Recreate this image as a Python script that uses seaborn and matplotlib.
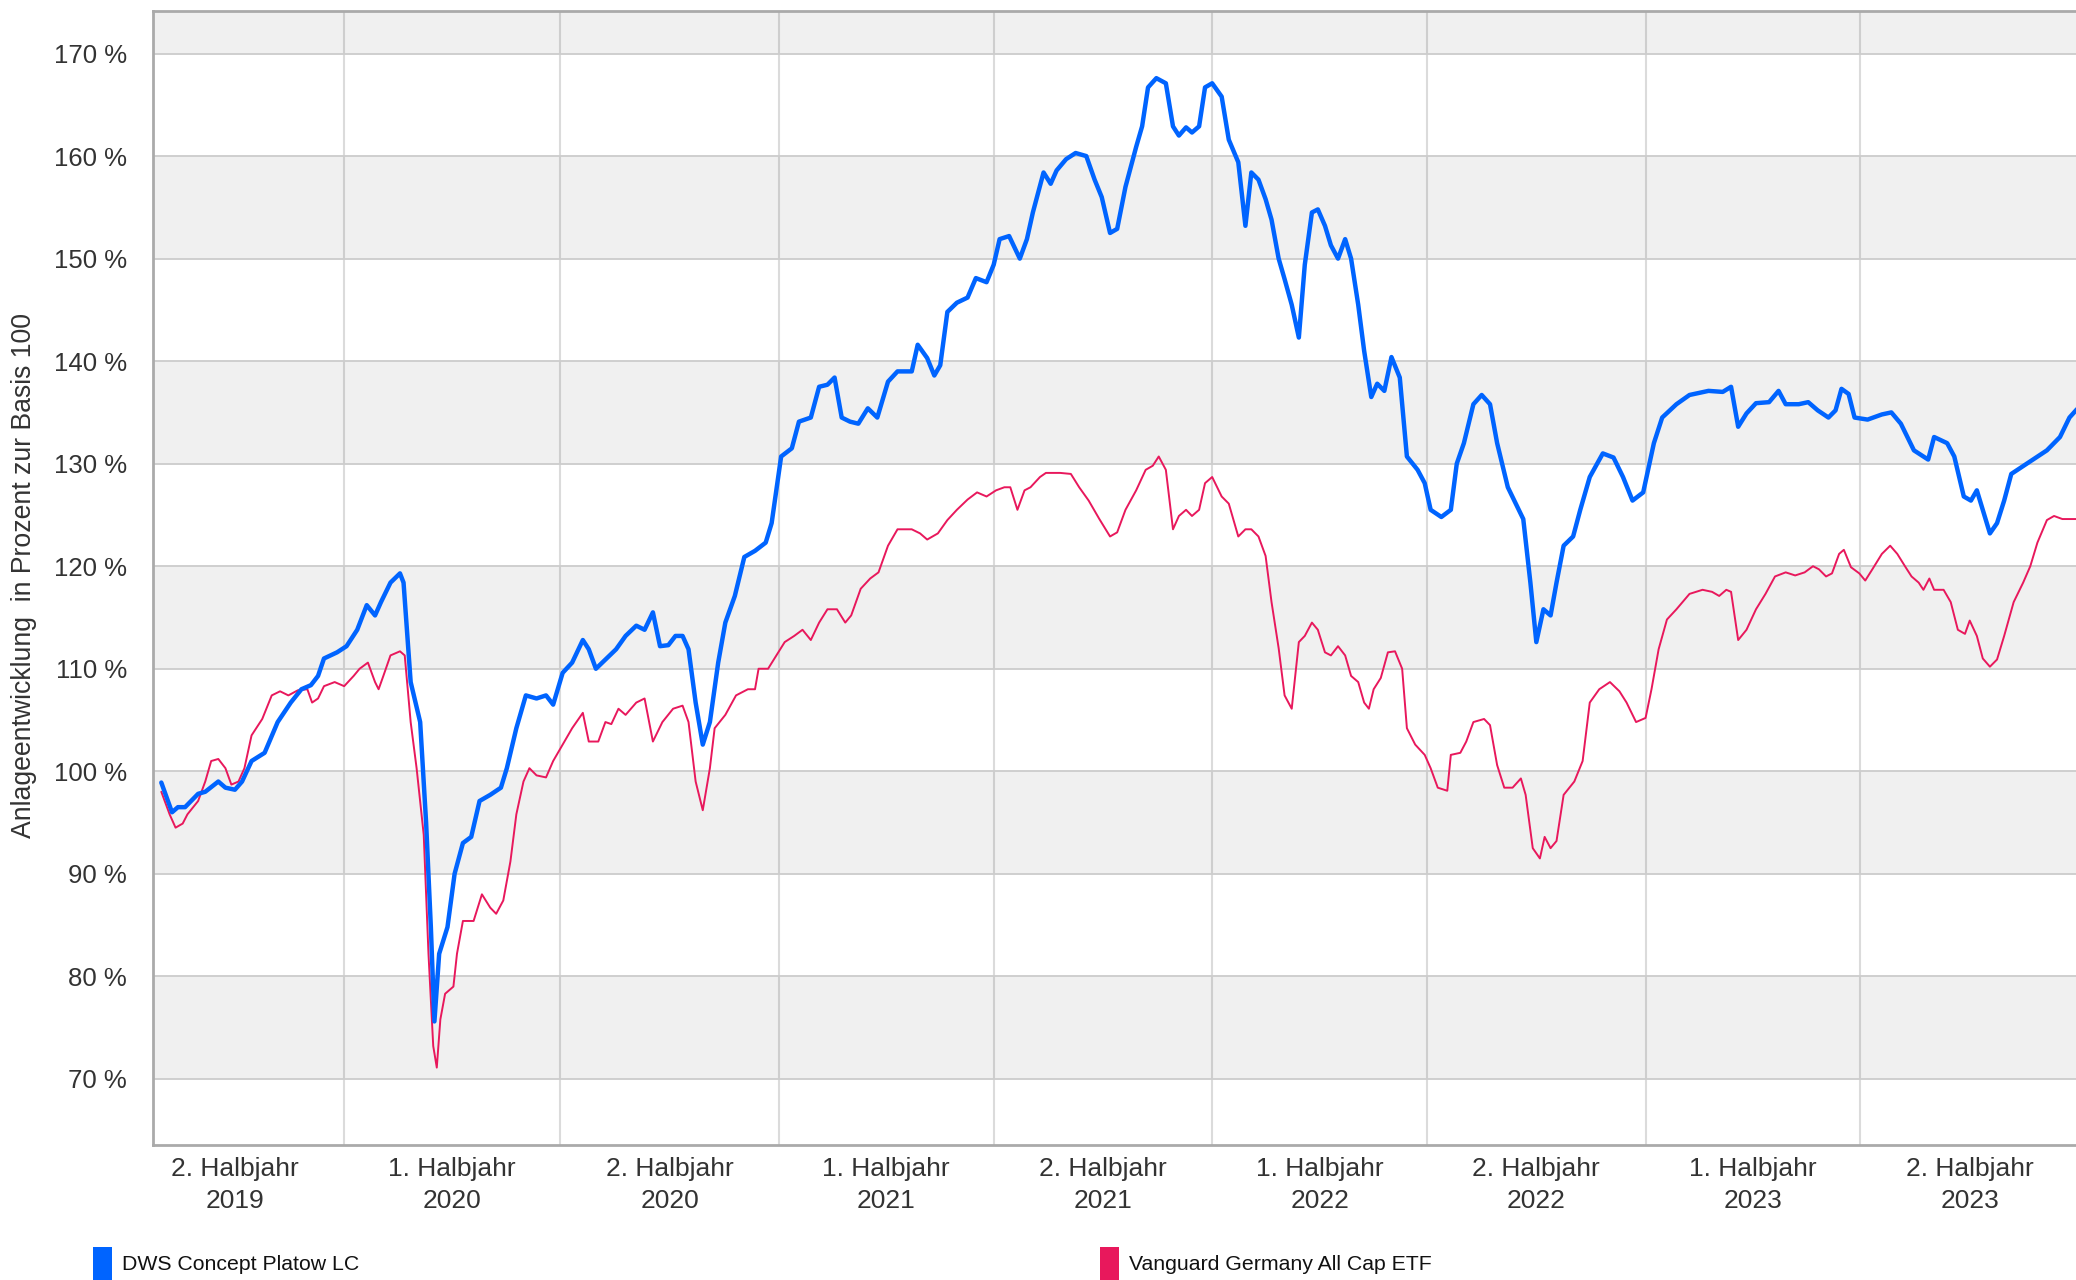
import matplotlib
matplotlib.use('Agg')
import pandas as pd
import numpy as np
import matplotlib.pyplot as plt
import matplotlib.dates as mdates
from matplotlib.patches import Rectangle
from matplotlib.ticker import FixedLocator, MultipleLocator, FuncFormatter
import seaborn as sns

dws_tage = [-154, -145, -140, -134, -123, -117, -106, -100, -92, -86, -78, -67, -56, -45, -36, -28,
            -22, -17, -6, 2, 11, 19, 26, 31, 39, 47, 50, 56, 64, 69, 73, 76, 80, 87, 93, 100, 107,
            114, 123, 132, 137, 145, 153, 162, 170, 176, 184, 192, 201, 206, 212, 221, 229, 237,
            246, 253, 260, 266, 273, 279, 285, 290, 296, 302, 308, 315, 321, 329, 337, 346, 355,
            360, 368, 377, 383, 393, 400, 407, 413, 419, 426, 433, 441, 449, 458, 466, 478, 483,
            491, 497, 502, 508, 516, 525, 532, 541, 547, 552, 560, 569, 575, 580, 589, 595, 600,
            608, 616, 625, 632, 638, 645, 651, 658, 667, 672, 677, 684, 692, 698, 703, 709, 714,
            720, 725, 731, 739, 745, 753, 759, 764, 770, 776, 781, 787, 792, 798, 804, 809, 815,
            820, 826, 831, 837, 843, 848, 854, 859, 865, 870, 876, 882, 889, 895, 904, 910, 915,
            924, 932, 937, 943, 951, 958, 965, 971, 980, 988, 993, 999, 1004, 1010, 1016, 1021,
            1027, 1035, 1041, 1049, 1060, 1069, 1077, 1085, 1094, 1103, 1110, 1122, 1133, 1149,
            1161, 1168, 1174, 1181, 1189, 1200, 1208, 1214, 1225, 1233, 1241, 1250, 1256, 1261,
            1267, 1272, 1283, 1295, 1303, 1311, 1322, 1334, 1339, 1350, 1356, 1364, 1370, 1375,
            1380, 1386, 1392, 1398, 1404, 1417, 1434, 1445, 1453, 1460]
dws_wert = [98.9, 96.0, 96.5, 96.5, 97.8, 98.0, 99.0, 98.4, 98.2, 99.0, 101.0, 101.8, 104.8, 106.7,
            108.0, 108.4, 109.3, 111.0, 111.6, 112.2, 113.8, 116.2, 115.2, 116.5, 118.4, 119.3,
            118.4, 108.7, 104.8, 95.0, 84.8, 75.6, 82.2, 84.8, 90.0, 93.0, 93.6, 97.1, 97.7, 98.4,
            100.3, 104.2, 107.4, 107.1, 107.4, 106.5, 109.6, 110.6, 112.8, 111.9, 110.0, 111.0,
            111.9, 113.2, 114.2, 113.8, 115.5, 112.2, 112.3, 113.2, 113.2, 111.9, 106.7, 102.6,
            104.8, 110.6, 114.5, 117.1, 120.9, 121.5, 122.3, 124.2, 130.7, 131.5, 134.1, 134.5,
            137.5, 137.7, 138.4, 134.5, 134.1, 133.9, 135.4, 134.5, 138.0, 139.0, 139.0, 141.6,
            140.3, 138.6, 139.6, 144.8, 145.7, 146.2, 148.1, 147.7, 149.4, 151.9, 152.2, 150.0,
            151.9, 154.5, 158.4, 157.3, 158.6, 159.7, 160.3, 160.0, 157.7, 156.0, 152.5, 152.9,
            157.0, 160.9, 162.9, 166.7, 167.6, 167.1, 162.9, 162.0, 162.8, 162.3, 162.9, 166.7,
            167.1, 165.8, 161.6, 159.4, 153.2, 158.4, 157.7, 155.8, 153.8, 150.0, 148.0, 145.5,
            142.3, 149.4, 154.5, 154.8, 153.2, 151.3, 150.0, 151.9, 150.0, 145.5, 141.0, 136.5,
            137.8, 137.1, 140.4, 138.4, 130.7, 129.4, 128.1, 125.5, 124.8, 125.5, 130.0, 132.0,
            135.8, 136.7, 135.8, 132.0, 127.7, 125.8, 124.6, 118.4, 112.6, 115.8, 115.2, 118.4,
            122.0, 122.9, 125.5, 128.7, 131.0, 130.6, 128.7, 126.4, 127.2, 132.0, 134.5, 135.8,
            136.7, 137.1, 137.0, 137.5, 133.6, 134.9, 135.9, 136.0, 137.1, 135.8, 135.8, 136.0,
            135.2, 134.5, 135.2, 137.3, 136.8, 134.5, 134.3, 134.8, 135.0, 133.9, 131.3, 130.4,
            132.6, 132.0, 130.7, 126.8, 126.4, 127.4, 125.5, 123.2, 124.2, 126.4, 129.0, 130.0,
            131.3, 132.6, 134.5, 135.4]

vang_tage = [-154, -147, -142, -136, -132, -123, -117, -112, -106, -100, -95, -89, -84, -78, -69,
             -61, -54, -47, -39, -31, -27, -22, -17, -8, 0, 8, 13, 20, 26, 29, 33, 39, 47, 51, 56,
             61, 67, 71, 75, 78, 81, 85, 92, 95, 100, 109, 116, 123, 128, 134, 140, 145, 151, 156,
             162, 170, 176, 184, 192, 201, 206, 214, 220, 225, 231, 237, 246, 253, 260, 268, 277,
             285, 290, 296, 302, 308, 312, 321, 330, 340, 346, 349, 357, 364, 371, 379, 386, 393,
             400, 407, 415, 422, 427, 435, 443, 450, 458, 466, 478, 485, 491, 500, 508, 516, 525,
             533, 541, 549, 556, 561, 567, 573, 578, 586, 591, 603, 612, 619, 627, 636, 645, 651,
             658, 667, 675, 681, 686, 692, 698, 703, 709, 714, 720, 725, 731, 739, 745, 753, 759,
             764, 770, 776, 781, 787, 792, 798, 804, 809, 815, 820, 826, 831, 837, 843, 848, 854,
             859, 863, 867, 873, 879, 885, 891, 895, 902, 910, 915, 921, 929, 932, 940, 945, 951,
             960, 965, 971, 977, 984, 991, 995, 1001, 1007, 1011, 1016, 1021, 1027, 1036, 1043,
             1049, 1057, 1066, 1074, 1080, 1088, 1096, 1101, 1107, 1114, 1122, 1133, 1144, 1152,
             1158, 1164, 1168, 1174, 1181, 1189, 1197, 1205, 1214, 1222, 1230, 1237, 1242, 1248,
             1253, 1259, 1263, 1269, 1276, 1281, 1287, 1295, 1302, 1308, 1315, 1320, 1326, 1330,
             1335, 1339, 1347, 1353, 1359, 1365, 1369, 1375, 1380, 1386, 1392, 1398, 1406, 1414,
             1420, 1426, 1434, 1440, 1447, 1460]
vang_wert = [98.0, 95.8, 94.5, 94.9, 95.8, 97.1, 99.0, 101.0, 101.2, 100.3, 98.7, 99.0, 100.3,
             103.5, 105.1, 107.4, 107.8, 107.4, 107.9, 108.0, 106.7, 107.1, 108.3, 108.7, 108.3,
             109.3, 110.0, 110.6, 108.7, 108.0, 109.3, 111.3, 111.7, 111.3, 104.8, 100.3, 93.8,
             82.2, 73.2, 71.1, 75.8, 78.3, 79.0, 82.2, 85.4, 85.4, 88.0, 86.7, 86.1, 87.4, 91.2,
             95.8, 99.0, 100.3, 99.6, 99.4, 101.0, 102.6, 104.2, 105.7, 102.9, 102.9, 104.8, 104.6,
             106.1, 105.5, 106.7, 107.1, 102.9, 104.8, 106.1, 106.4, 104.8, 99.0, 96.2, 100.3,
             104.2, 105.5, 107.4, 108.0, 108.0, 110.0, 110.0, 111.3, 112.6, 113.2, 113.8, 112.8,
             114.5, 115.8, 115.8, 114.5, 115.2, 117.8, 118.8, 119.4, 122.0, 123.6, 123.6, 123.2,
             122.6, 123.2, 124.5, 125.5, 126.5, 127.2, 126.8, 127.4, 127.7, 127.7, 125.5, 127.4,
             127.7, 128.7, 129.1, 129.1, 129.0, 127.7, 126.4, 124.6, 122.9, 123.3, 125.5, 127.4,
             129.4, 129.8, 130.7, 129.4, 123.6, 124.9, 125.5, 124.9, 125.5, 128.1, 128.7, 126.8,
             126.1, 122.9, 123.6, 123.6, 122.9, 121.0, 116.5, 112.0, 107.4, 106.1, 112.6, 113.2,
             114.5, 113.8, 111.6, 111.3, 112.2, 111.3, 109.3, 108.7, 106.7, 106.1, 108.0, 109.1,
             111.6, 111.7, 110.0, 104.2, 102.6, 101.6, 100.3, 98.4, 98.1, 101.6, 101.8, 102.9,
             104.8, 105.1, 104.5, 100.6, 98.4, 98.4, 99.3, 97.7, 92.5, 91.5, 93.6, 92.5, 93.2,
             97.7, 99.0, 101.0, 106.7, 108.0, 108.7, 107.8, 106.7, 104.8, 105.2, 108.0, 111.9,
             114.8, 115.8, 117.3, 117.7, 117.5, 117.1, 117.7, 117.5, 112.8, 113.8, 115.8, 117.3,
             119.0, 119.4, 119.1, 119.4, 120.0, 119.7, 119.0, 119.3, 121.2, 121.6, 119.9, 119.3,
             118.6, 119.7, 121.2, 122.0, 121.2, 119.9, 119.0, 118.4, 117.7, 118.8, 117.7, 117.7,
             116.5, 113.8, 113.4, 114.7, 113.2, 111.0, 110.2, 110.9, 113.2, 116.5, 118.4, 120.0,
             122.3, 124.5, 124.9, 124.6, 124.6]

halbjahre = [(2019, 2), (2020, 1), (2020, 2), (2021, 1), (2021, 2),
             (2022, 1), (2022, 2), (2023, 1), (2023, 2)]
halbjahr_labels = [f'{h}. Halbjahr\n{j}' for j, h in halbjahre]

fonds_namen = ['DWS Concept Platow LC', 'Vanguard Germany All Cap ETF']
farben = ['#0064ff', '#e8185c']

basis = pd.Timestamp('2020-01-01')
df_dws = pd.DataFrame({'datum': basis + pd.to_timedelta(dws_tage, unit='D'), 'wert': dws_wert})
df_vang = pd.DataFrame({'datum': basis + pd.to_timedelta(vang_tage, unit='D'), 'wert': vang_wert})

sns.set_style('white')
plt.rcParams['font.family'] = ['Liberation Sans', 'DejaVu Sans']

W, H = 2076, 1280
fig = plt.figure(figsize=(W / 100, H / 100), dpi=100)
ax = fig.add_axes([153 / W, 135 / H, 1 - 153 / W, (1145 - 11) / H])

# graue Baender
for lo in range(70, 180, 20):
    ax.axhspan(lo, lo + 10, color='#f0f0f0', zorder=0, lw=0)

sns.lineplot(data=df_vang, x='datum', y='wert', color=farben[1], linewidth=1.4, ax=ax, zorder=3)
sns.lineplot(data=df_dws, x='datum', y='wert', color=farben[0], linewidth=3.2, ax=ax, zorder=4)
for l in ax.lines:
    l.set_solid_joinstyle('round')
    l.set_solid_capstyle('round')

ax.set_xlim(pd.Timestamp('2019-07-24'), pd.Timestamp('2023-12-29 12:00'))
ax.set_ylim(63.55, 174.15)

# x-Achse: Gitter an Halbjahresgrenzen, Beschriftung in der Mitte
ax.xaxis.set_major_locator(mdates.MonthLocator(bymonth=[1, 7]))
ax.xaxis.set_major_formatter(FuncFormatter(lambda v, p: ''))
mitten = []
for j, h in halbjahre:
    a = pd.Timestamp(j, 1 if h == 1 else 7, 1)
    e = pd.Timestamp(j, 7, 1) if h == 1 else pd.Timestamp(j + 1, 1, 1)
    mitten.append(mdates.date2num(a + (e - a) / 2))
ax.xaxis.set_minor_locator(FixedLocator(mitten))
ax.set_xticklabels(halbjahr_labels, minor=True)
ax.tick_params(axis='x', which='both', length=0)
ax.tick_params(axis='x', which='minor', labelsize=19, labelcolor='#333333', pad=8.5)
for t in ax.get_xticklabels(minor=True):
    t.set_linespacing(1.42)

ax.yaxis.set_major_locator(MultipleLocator(10))
ax.yaxis.set_minor_locator(MultipleLocator(10 / 3))
ax.yaxis.set_major_formatter(FuncFormatter(lambda v, p: f'{v:.0f} %'))
ax.tick_params(axis='y', which='major', length=7.7, width=1.3, color='#b0b0b0',
               labelsize=18.5, labelcolor='#333333', pad=11)
ax.tick_params(axis='y', which='minor', length=3.8, width=1.3, color='#b0b0b0')

ax.grid(axis='y', which='major', color='#cccccc', lw=1.3)
ax.grid(axis='x', which='major', color='black', alpha=0.14, lw=1.5)
ax.set_axisbelow(True)

ax.set_xlabel('')
ax.set_ylabel('')
fig.text(24 / W, 1 - 576 / H, 'Anlageentwicklung  in Prozent zur Basis 100', rotation=90,
         ha='center', va='center', fontsize=19.2, color='#333333')

for s in ['left', 'bottom', 'top']:
    ax.spines[s].set_color('#aaaaaa')
    ax.spines[s].set_linewidth(2.0)
ax.spines['right'].set_visible(False)

# Legende unten
for name, farbe, x0 in zip(fonds_namen, farben, [93, 1100]):
    fig.add_artist(Rectangle((x0 / W, 0), 19 / W, 33 / H, transform=fig.transFigure,
                             color=farbe, lw=0))
    fig.text((x0 + 29) / W, 1 - 1264 / H, name, ha='left', va='center', fontsize=15.3,
             color='#111111')

fig.savefig('out.png', dpi=100)
